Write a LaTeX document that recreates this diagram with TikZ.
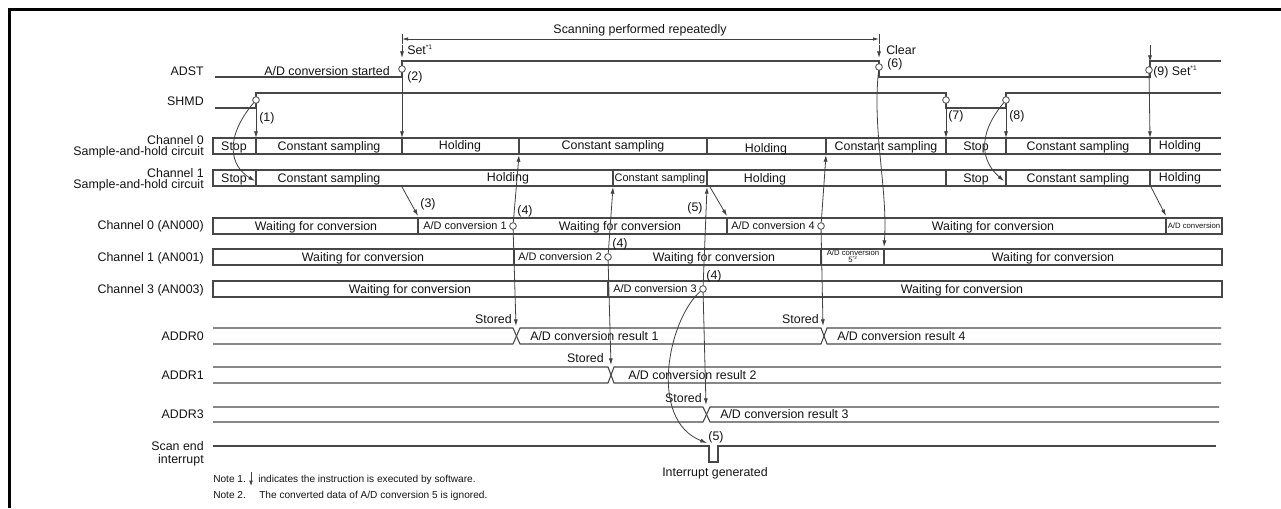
\documentclass[tikz,border=0pt]{standalone}
\usepackage{fontspec}
\setmainfont{Liberation Sans}
\usetikzlibrary{arrows.meta}
\begin{document}
\begin{tikzpicture}[x=0.75pt,y=-0.75pt,
  ln/.style={draw=black!72,line width=0.8pt},
  tl/.style={draw=black!75,line width=0.6pt},
  txt/.style={font=\fontsize{9.3}{11}\selectfont,text=black!92,inner sep=0pt,text height=6.6pt,text depth=0pt},
  sm/.style={font=\fontsize{8.2}{9}\selectfont,text=black!92,inner sep=0pt,text height=5.9pt,text depth=0pt},
  tn/.style={font=\fontsize{5.8}{6}\selectfont,text=black!92,inner sep=0pt,text height=4.2pt,text depth=0pt},
  nt/.style={font=\fontsize{7.6}{9}\selectfont,text=black!92,inner sep=0pt,text height=5.4pt,text depth=0pt,anchor=west},
  dot/.style={circle,draw=black!72,fill=white,line width=0.6pt,minimum size=5pt,inner sep=0pt},
  tip/.style={-{Latex[length=5pt,width=3pt]}},
  arr/.style={tl,tip},
]
\useasboundingbox (0,0) rectangle (1281,508);
\fill[white] (0,0) rectangle (1281,508);
% frame corner
\draw[line width=2.3pt] (9.5,508) -- (9.5,9.5) -- (1281,9.5);

% ---------- left labels ----------
\node[txt,anchor=east] (lADST) at (204,71) {ADST};
\node[txt,anchor=east] (lSHMD) at (204,101) {SHMD};
\node[txt,anchor=east] (lS0a) at (204,140) {Channel 0};
\node[txt,anchor=east] (lS0b) at (204,151) {Sample-and-hold circuit};
\node[txt,anchor=east] (lS1a) at (204,173) {Channel 1};
\node[txt,anchor=east] (lS1b) at (204,184) {Sample-and-hold circuit};
\node[txt,anchor=east] (lA0) at (204,225) {Channel 0 (AN000)};
\node[txt,anchor=east] (lA1) at (204,257) {Channel 1 (AN001)};
\node[txt,anchor=east] (lA3) at (204,289) {Channel 3 (AN003)};
\node[txt,anchor=east] (lR0) at (204,336) {ADDR0};
\node[txt,anchor=east] (lR1) at (204,375) {ADDR1};
\node[txt,anchor=east] (lR3) at (204,414) {ADDR3};
\node[txt,anchor=east] (lSEa) at (204,446) {Scan end};
\node[txt,anchor=east] (lSEb) at (204,459) {interrupt};

% ---------- top dimension ----------
\node[txt] (scan) at (640,29) {Scanning performed repeatedly};
\coordinate (dl) at (402,39); \coordinate (dr) at (879,39);
\draw[tl,{Latex[length=4.5pt,width=2.6pt]}-{Latex[length=4.5pt,width=2.6pt]}] (dl) -- (dr);
\draw[tl] (402,34) -- (402,44);
\draw[tl] (879,34) -- (879,44);

% software arrows
\coordinate (sa1) at (402,45); \coordinate (sb1) at (402,58);
\draw[arr] (sa1) -- (sb1);
\node[txt,anchor=west] (set1) at (407,50) {Set\textsuperscript{\fontsize{5}{5}\selectfont *1}};
\coordinate (sa2) at (879,45); \coordinate (sb2) at (879,58);
\draw[arr] (sa2) -- (sb2);
\node[txt,anchor=west] (clr) at (886,50) {Clear};
\coordinate (sa3) at (1150,45); \coordinate (sb3) at (1150,62);
\draw[arr] (sa3) -- (sb3);

% ---------- ADST ----------
\draw[ln] (215,77) -- (402,77) -- (402,61) -- (879,61) -- (879,77) -- (1150,77) -- (1150,61) -- (1221,61);
\node[txt,anchor=east] (adstart) at (390,71) {A/D conversion started};
\node[txt,anchor=west] (n2) at (407,76) {(2)};
\node[txt,anchor=west] (n6) at (887,63) {(6)};
\node[txt,anchor=west] (n9) at (1153,71) {(9) Set\textsuperscript{\fontsize{5}{5}\selectfont *1}};

% ---------- SHMD ----------
\draw[ln] (215,108) -- (256,108) -- (256,93) -- (946,93) -- (946,108) -- (1006,108) -- (1006,93) -- (1221,93);
\node[txt,anchor=west] (n1) at (259,117) {(1)};
\node[txt,anchor=west] (n7) at (948,115) {(7)};
\node[txt,anchor=west] (n8) at (1009,115) {(8)};

% ---------- S&H channel 0 ----------
\draw[ln] (1221,138) -- (213,138) -- (213,154) -- (1221,154);
\foreach \x in {256,402,519,707,826,946,1006,1150} \draw[ln] (\x,138) -- (\x,154);
\node[txt] (a1) at (234,146) {Stop};
\node[txt] (a2) at (329,146) {Constant sampling};
\node[txt] (a3) at (460,145) {Holding};
\node[txt] (a4) at (613,145) {Constant sampling};
\node[txt] (a5) at (766,148) {Holding};
\node[txt] (a6) at (886,146) {Constant sampling};
\node[txt] (a7) at (976,146) {Stop};
\node[txt] (a8) at (1078,146) {Constant sampling};
\node[txt] (a9) at (1180,145) {Holding};

% ---------- S&H channel 1 ----------
\draw[ln] (1221,170) -- (213,170) -- (213,186) -- (1221,186);
\foreach \x in {256,613,707,946,1006,1150} \draw[ln] (\x,170) -- (\x,186);
\node[txt] (b1) at (234,178) {Stop};
\node[txt] (b2) at (329,178) {Constant sampling};
\node[txt] (b3) at (508,177) {Holding};
\node[sm] (b4) at (660,178) {Constant sampling};
\node[txt] (b5) at (765,178) {Holding};
\node[txt] (b6) at (976,178) {Stop};
\node[txt] (b7) at (1078,178) {Constant sampling};
\node[txt] (b8) at (1180,177) {Holding};

% ---------- AN000 ----------
\draw[ln] (213,218) rectangle (1222,234);
\foreach \x in {418,727,1166} \draw[ln] (\x,218) -- (\x,234);
\node[txt] (c1) at (316,226) {Waiting for conversion};
\node[sm] (c2) at (465,226) {A/D conversion 1};
\node[txt] (c3) at (620,226) {Waiting for conversion};
\node[sm] (c4) at (773,226) {A/D conversion 4};
\node[txt] (c5) at (993,226) {Waiting for conversion};
\node[tn] (c6) at (1194,226) {A/D conversion};

% ---------- AN001 ----------
\draw[ln] (213,249) rectangle (1222,265);
\foreach \x in {514,821,884} \draw[ln] (\x,249) -- (\x,265);
\node[txt] (d1) at (363,257) {Waiting for conversion};
\node[sm] (d2) at (560,257) {A/D conversion 2};
\node[txt] (d3) at (714,257) {Waiting for conversion};
\node[tn] (d4a) at (853,253) {A/D conversion};
\node[tn] (d4b) at (853,260) {5\textsuperscript{\fontsize{3.5}{4}\selectfont *2}};
\node[txt] (d5) at (1053,257) {Waiting for conversion};

% ---------- AN003 ----------
\draw[ln] (213,281) rectangle (1222,297);
\foreach \x in {608} \draw[ln] (\x,281) -- (\x,297);
\node[txt] (e1) at (410,289) {Waiting for conversion};
\node[sm] (e2) at (655,289) {A/D conversion 3};
\node[txt] (e3) at (962,289) {Waiting for conversion};

% ---------- ADDR rows ----------
\draw[ln] (213,328) -- (513,328) -- (520,344) -- (821,344) -- (827,328) -- (1221,328);
\draw[ln] (213,344) -- (513,344) -- (520,328) -- (821,328) -- (827,344) -- (1221,344);
\draw[ln] (213,367) -- (608,367) -- (614,383) -- (1221,383);
\draw[ln] (213,383) -- (608,383) -- (614,367) -- (1221,367);
\draw[ln] (213,407) -- (703,407) -- (710,422) -- (1219,422);
\draw[ln] (213,422) -- (703,422) -- (710,407) -- (1219,407);
\node[txt,anchor=west] (r1) at (530,336) {A/D conversion result 1};
\node[txt,anchor=west] (r4) at (837,336) {A/D conversion result 4};
\node[txt,anchor=west] (r2) at (628,375) {A/D conversion result 2};
\node[txt,anchor=west] (r3) at (720,414) {A/D conversion result 3};
\node[txt,anchor=east] (st1) at (512,319) {Stored};
\node[txt,anchor=east] (st4) at (819,319) {Stored};
\node[txt,anchor=east] (st2) at (604,358) {Stored};
\node[txt,anchor=east] (st3) at (702,398) {Stored};

% ---------- scan end interrupt ----------
\draw[ln] (213,446) -- (709,446) -- (709,462) -- (718,462) -- (718,446) -- (1216,446);
\node[txt] (n5b) at (716,436) {(5)};
\node[txt] (intg) at (715,472) {Interrupt generated};

% ---------- marker circles ----------
\node[dot] (o2) at (402,69) {};
\node[dot] (o6) at (879,67) {};
\node[dot] (o9) at (1149,70) {};
\node[dot] (o1) at (256,100) {};
\node[dot] (o7) at (946,100) {};
\node[dot] (o8) at (1006,100) {};
\node[dot] (oA) at (513,226) {};
\node[dot] (oB) at (608,257) {};
\node[dot] (oC) at (703,289) {};
\node[dot] (oD) at (821,226) {};

% ---------- targets ----------
\coordinate (t2) at (402,138);
\coordinate (t9) at (1150,138);
\coordinate (t1) at (256,138);
\coordinate (t7) at (946,138);
\coordinate (t8) at (1006,138);
\coordinate (t1c) at (255,181);
\coordinate (t8c) at (1004,181);
\coordinate (t6) at (884,247);
\coordinate (uA) at (519,155);
\coordinate (dA) at (516,326);
\coordinate (uB) at (613,187);
\coordinate (dB) at (611,365);
\coordinate (uC) at (707,187);
\coordinate (dC) at (706,405);
\coordinate (iC) at (707,443);
\coordinate (uD) at (826,155);
\coordinate (dD) at (823,326);

% ---------- connectors ----------
\draw[arr] (o2) -- (t2);
\draw[arr] (o9) -- (t9);
\draw[arr] (o1) -- (t1);
\draw[arr] (o7) -- (t7);
\draw[arr] (o8) -- (t8);
\draw[arr] (o1) .. controls (224,138) and (230,166) .. (t1c);
\draw[arr] (o8) .. controls (976,136) and (982,162) .. (t8c);
\draw[arr] (o6) .. controls (872,130) and (888,190) .. (t6);
\draw[arr] (oA) -- (uA);
\draw[arr] (oA) -- (dA);
\draw[arr] (oB) -- (uB);
\draw[arr] (oB) -- (dB);
\draw[arr] (oC) -- (uC);
\draw[arr] (oC) -- (dC);
\draw[arr] (oC) .. controls (668,320) and (648,420) .. (iC);
\draw[arr] (oD) -- (uD);
\draw[arr] (oD) -- (dD);

% diagonal S&H -> conversion arrows
\coordinate (p3a) at (402,187); \coordinate (p3b) at (418,216);
\coordinate (p5a) at (710,187); \coordinate (p5b) at (727,216);
\coordinate (p9a) at (1151,187); \coordinate (p9b) at (1166,216);
\draw[arr] (p3a) -- (p3b);
\draw[arr] (p5a) -- (p5b);
\draw[arr] (p9a) -- (p9b);
\node[txt] (n3) at (428,203) {(3)};
\node[txt] (n5a) at (695,207) {(5)};
\node[txt] (n4a) at (525,210) {(4)};
\node[txt] (n4b) at (620,243) {(4)};
\node[txt] (n4c) at (714,275) {(4)};

% ---------- notes ----------
\node[nt] (note1) at (213,479) {Note 1.};
\coordinate (na) at (251,472); \coordinate (nb) at (251,486);
\draw[tl,-{Latex[length=4pt,width=2.8pt]}] (na) -- (nb);
\node[nt] (note1t) at (258,479) {indicates the instruction is executed by software.};
\node[nt] (note2) at (213,495) {Note 2.};
\node[nt] (note2t) at (259,495) {The converted data of A/D conversion 5 is ignored.};
\end{tikzpicture}
\end{document}
